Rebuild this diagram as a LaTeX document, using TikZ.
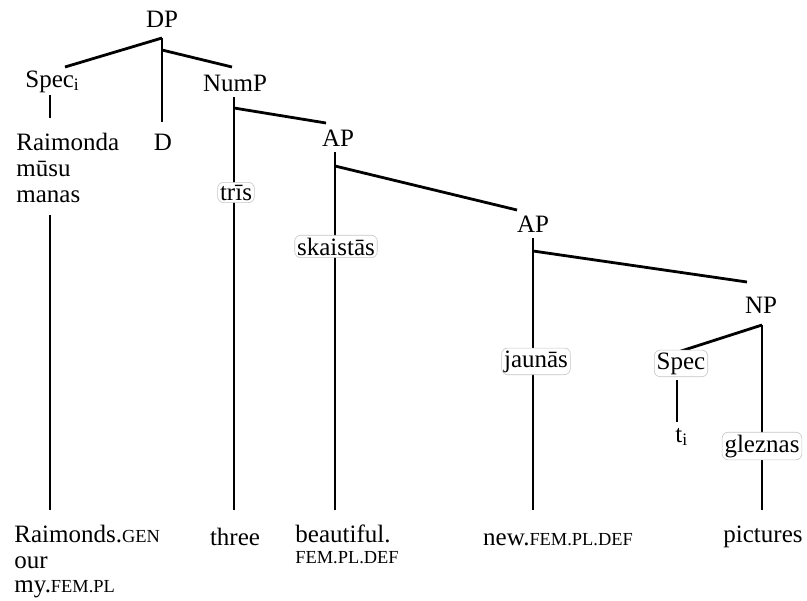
\documentclass[tikz,border=0pt]{standalone}
\usepackage{fontspec}
\setmainfont{Liberation Serif}
\newcommand{\gsc}[1]{{\fontsize{9.2pt}{10pt}\selectfont #1}}
\begin{document}
\begin{tikzpicture}[x=0.5pt,y=-0.5pt,
  font=\fontsize{12.5pt}{13pt}\selectfont,
  lbl/.style={anchor=base, inner sep=0pt},
  lblw/.style={anchor=base west, inner sep=0pt},
  halo/.style={anchor=base, fill=white, draw=gray!45, line width=0.3pt, rounded corners=3pt, inner sep=1.2pt},
  branch/.style={line width=1.4pt}]
\useasboundingbox (0,0) rectangle (807,600);
% junction coordinates
\coordinate (dpa) at (162,38);
\coordinate (dpb) at (162,50);
\coordinate (dpd) at (162,122);
\coordinate (spi) at (65,67);
\coordinate (nmt) at (232,67);
\coordinate (spia) at (50,95);
\coordinate (spib) at (50,118);
\coordinate (ra) at (50,215);
\coordinate (rb) at (50,510);
\coordinate (nma) at (234,97);
\coordinate (nmb) at (234,108);
\coordinate (nmc) at (234,510);
\coordinate (apat) at (326,123);
\coordinate (apa) at (335,152);
\coordinate (apb) at (335,166);
\coordinate (apc) at (335,510);
\coordinate (apbt) at (517,210);
\coordinate (bpa) at (533,238);
\coordinate (bpb) at (533,251);
\coordinate (bpc) at (533,510);
\coordinate (npt) at (747,282);
\coordinate (npa) at (762,325);
\coordinate (npc) at (762,510);
\coordinate (spt) at (678,352);
\coordinate (spa) at (677,380);
\coordinate (spb) at (677,422);
% branches
\draw[branch] (dpa) -- (spi);
\draw[branch] (dpa) -- (dpd);
\draw[branch] (dpb) -- (nmt);
\draw[branch] (spia) -- (spib);
\draw[branch] (ra) -- (rb);
\draw[branch] (nma) -- (nmc);
\draw[branch] (nmb) -- (apat);
\draw[branch] (apa) -- (apc);
\draw[branch] (apb) -- (apbt);
\draw[branch] (bpa) -- (bpc);
\draw[branch] (bpb) -- (npt);
\draw[branch] (npa) -- (npc);
\draw[branch] (npa) -- (spt);
\draw[branch] (spa) -- (spb);
% labels
\node[lbl] (dp) at (162,27) {DP};
\node[lblw] (speci) at (25,87) {Spec\textsubscript{i}};
\node[lbl] (d) at (163,150) {D};
\node[lbl] (nump) at (235,91) {NumP};
\node[lbl] (ap1) at (338,146) {AP};
\node[lbl] (ap2) at (533,232) {AP};
\node[lbl] (np) at (761,313) {NP};
\node[lblw] (r1) at (16,150) {Raimonda};
\node[lblw] (r2) at (16,176) {mūsu};
\node[lblw] (r3) at (16,202) {manas};
\node[halo] (tris) at (236,200) {trīs};
\node[halo] (skaistas) at (336,255) {skaistās};
\node[halo] (jaunas) at (536,367) {jaunās};
\node[halo] (spec) at (681,369) {Spec};
\node[lblw] (ti) at (675,442) {t\textsubscript{i}};
\node[halo] (gleznas) at (762,452) {gleznas};
% glosses
\node[lblw] (g1) at (14,542) {Raimonds.\gsc{GEN}};
\node[lblw] (g2) at (14,568) {our};
\node[lblw] (g3) at (14,592) {my.\gsc{FEM.PL}};
\node[lbl] (g4) at (235,545) {three};
\node[lblw] (g5) at (295,542) {beautiful.};
\node[lblw] (g6) at (295,563) {\gsc{FEM.PL.DEF}};
\node[lbl] (g7) at (558,545) {new.\gsc{FEM.PL.DEF}};
\node[lbl] (g8) at (763,542) {pictures};
\end{tikzpicture}
\end{document}
